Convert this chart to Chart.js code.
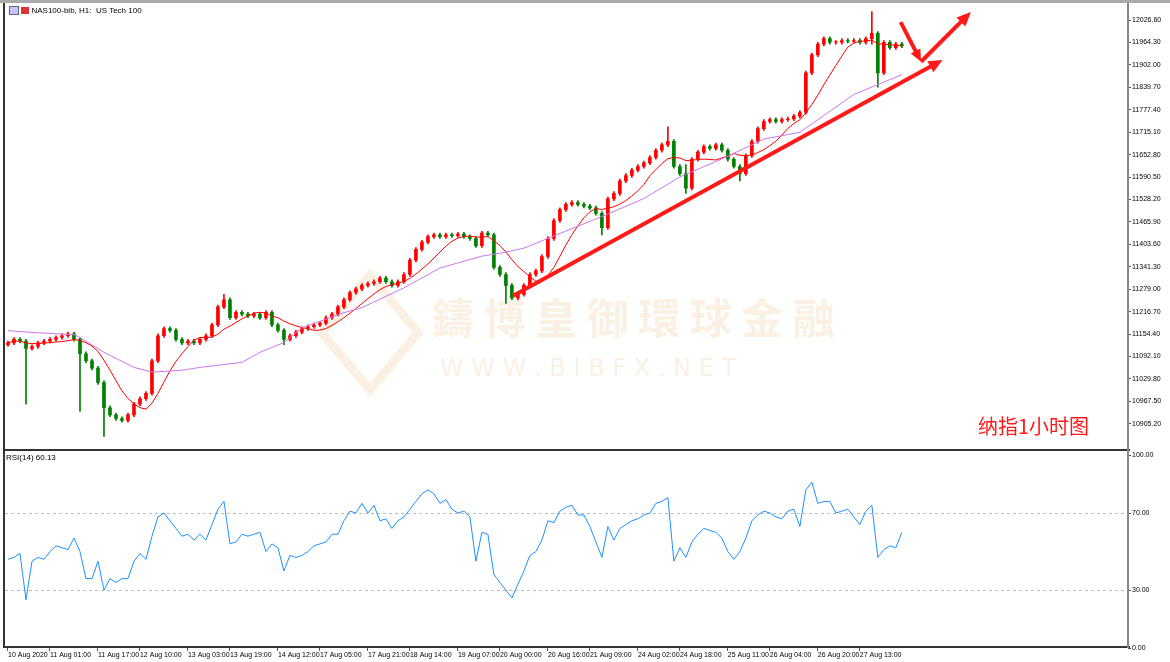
<!DOCTYPE html>
<html>
<head>
<meta charset="utf-8">
<script src="https://cdn.jsdelivr.net/npm/chart.js@4/dist/chart.umd.min.js"></script>
<style>
body{margin:0;background:#fff;width:1170px;height:662px;position:relative;overflow:hidden;font-family:"Liberation Sans",sans-serif}
#main{position:absolute;left:0;top:0;width:1170px;height:450px}
#rsi{position:absolute;left:0;top:450px;width:1170px;height:212px}
.ln{position:absolute;background:#333}
.lbl{position:absolute;font-size:8px;color:#000}
#note{position:absolute;left:978px;top:411px;font:20px "Noto Sans CJK SC",sans-serif;color:#ff1a1a}
</style>
</head>
<body>
<div id="main"><canvas id="c1"></canvas></div>
<div id="rsi"><canvas id="c2"></canvas></div>
<div class="ln" style="left:0;top:0;width:1170px;height:3px;background:#aaa"></div>
<div class="ln" style="left:3px;top:3px;width:2px;height:645px"></div>
<div class="ln" style="left:3px;top:449px;width:1127px;height:2px"></div>
<div class="ln" style="left:3px;top:646px;width:1127px;height:2px"></div>
<div class="ln" style="left:1127px;top:3px;width:2px;height:645px;background:#888"></div>
<div class="lbl" style="left:9px;top:6px"><span style="display:inline-block;width:8px;height:7px;background:#c8c0ff;border:1px solid #666;vertical-align:middle"></span> <span style="display:inline-block;width:8px;height:7px;background:#d33;vertical-align:middle"></span> NAS100-bib, H1:&nbsp; US Tech 100</div>
<div class="lbl" style="left:6px;top:453px">RSI(14) 60.13</div>
<div id="note">纳指1小时图</div>
<script>
// hourly closes (about two bars per slot)
var closes = [11130,11140,11135,11115,11120,11130,11135,11140,11145,11150,
  11155,11140,11100,11080,11060,11020,10950,10930,10920,10915,
  10930,10960,10975,10990,11080,11150,11170,11165,11140,11130,
  11135,11130,11140,11150,11180,11230,11250,11200,11215,11210,
  11205,11210,11200,11215,11180,11165,11140,11150,11160,11170,
  11175,11180,11185,11200,11210,11230,11250,11270,11280,11290,
  11295,11300,11310,11300,11290,11300,11320,11360,11390,11410,
  11425,11430,11425,11430,11428,11432,11425,11420,11400,11435,
  11430,11340,11320,11290,11255,11265,11290,11320,11330,11370,
  11420,11470,11500,11515,11520,11515,11510,11505,11490,11450,
  11530,11545,11580,11595,11610,11620,11630,11645,11665,11680,
  11690,11620,11600,11560,11640,11660,11675,11670,11680,11665,
  11640,11620,11600,11650,11690,11725,11745,11750,11745,11750,
  11752,11760,11770,11880,11930,11960,11975,11965,11965,11970,
  11968,11970,11965,11975,11990,11880,11965,11950,11960,11955];
var firstOpen = 11125;
// long wicks: [index, high, low]
var spikes = [[3,11140,10960],[12,11145,10940],[16,11025,10870],[36,11265,11225],
  [46,11170,11125],[83,11325,11240],[99,11495,11430],[110,11730,11675],
  [113,11625,11545],[122,11625,11580],[144,12050,11960],[145,11995,11840]];
var slowMA = [[0,11164],[4,11159],[11,11153],[12,11145],[16,11104],[21,11062],[24,11049],
  [29,11054],[32,11062],[39,11076],[42,11104],[46,11131],[49,11172],[56,11214],[59,11228],
  [66,11283],[72,11338],[79,11371],[82,11379],[86,11393],[92,11434],[99,11481],[106,11531],
  [112,11591],[119,11641],[126,11696],[132,11715],[141,11820],[149,11875]];
var rsi = [46,47,49,25,45,47,46,50,53,52,51,57,50,36,36,45,30,36,34,36,
  36,45,49,46,58,68,70,66,62,58,59,56,59,56,64,72,76,54,55,59,
  58,59,60,50,54,52,40,48,47,48,50,53,54,55,59,59,66,71,70,75,
  70,74,66,67,62,66,68,72,76,80,82,80,75,77,72,70,71,68,45,60,
  59,38,34,30,26,33,40,48,50,56,66,65,71,73,74,69,69,63,55,47,
  63,56,62,64,66,67,69,70,75,76,78,45,52,47,55,59,62,61,60,57,
  50,46,50,57,66,69,71,70,68,67,71,72,63,82,86,75,76,76,70,71,
  72,68,64,71,74,47,51,53,52,60];
var priceTicks = [10905.2,10967.5,11029.8,11092.1,11154.4,11216.7,11279.0,11341.3,11403.6,
  11465.9,11528.2,11590.5,11652.8,11715.1,11777.4,11839.7,11902.0,11964.3,12026.6];
var timeLabels = [[0,"10 Aug 2020"],[7,"11 Aug 01:00"],[15,"11 Aug 17:00"],[22,"12 Aug 10:00"],
  [30,"13 Aug 03:00"],[37,"13 Aug 19:00"],[45,"14 Aug 12:00"],[52,"17 Aug 05:00"],
  [60,"17 Aug 21:00"],[67,"18 Aug 14:00"],[75,"19 Aug 07:00"],[82,"20 Aug 00:00"],
  [90,"20 Aug 16:00"],[97,"21 Aug 09:00"],[105,"24 Aug 02:00"],[112,"24 Aug 18:00"],
  [120,"25 Aug 11:00"],[127,"26 Aug 04:00"],[135,"26 Aug 20:00"],[142,"27 Aug 13:00"]];
// hand-drawn annotations in (index, price)
var trendLine = [[84.2,11261],[155.8,11916]];
var zigzag = [[148.8,12021],[152.2,11911],[160.5,12049]];

var XMAX = 186.7;
var bodies = [], wicks = [], bodyCol = [], fast = [];
closes.forEach(function(c,i){
  var o = i ? closes[i-1] : firstOpen;
  var hi = Math.max(o,c)+5, lo = Math.min(o,c)-5;
  spikes.forEach(function(s){ if(s[0]===i){hi=s[1];lo=s[2];} });
  bodies.push({x:i,y:[o,c===o?c+1:c]});
  wicks.push({x:i,y:[lo,hi]});
  bodyCol.push(c>=o ? '#ff0000' : '#008000');
  var n = Math.min(8,i+1), s=0;
  for(var k=i-n+1;k<=i;k++) s+=closes[k];
  fast.push({x:i,y:s/n});
});

var font = {family:'"Liberation Sans", sans-serif', size:7};
function fixW(sc){ sc.width = 42; }

var annot = {
  id:'annot',
  beforeDatasetsDraw:function(ch){
    var g=ch.ctx;
    g.save();
    g.globalAlpha=0.16;
    g.strokeStyle='#e0a050'; g.fillStyle='#e0a050'; g.lineWidth=9;
    g.beginPath(); g.moveTo(370,275); g.lineTo(418,333); g.lineTo(370,390); g.lineTo(322,333); g.closePath(); g.stroke();
    g.font='bold 42px "Noto Sans CJK TC", sans-serif';
    g.fillText('鑄 博 皇 御 環 球 金 融',432,334);
    g.font='24px "DejaVu Sans", sans-serif';
    g.fillText('W W W . B I B F X . N E T',440,376);
    g.restore();
  },
  afterDatasetsDraw:function(ch){
    var g=ch.ctx, x=ch.scales.x, y=ch.scales.y;
    function P(p){ return [x.getPixelForValue(p[0]), y.getPixelForValue(p[1])]; }
    function arrow(a,b,w,h){
      var ang=Math.atan2(b[1]-a[1],b[0]-a[0]);
      g.lineWidth=w; g.beginPath(); g.moveTo(a[0],a[1]);
      g.lineTo(b[0]-Math.cos(ang)*h*0.8,b[1]-Math.sin(ang)*h*0.8); g.stroke();
      g.beginPath(); g.moveTo(b[0],b[1]);
      g.lineTo(b[0]-h*Math.cos(ang)+h*0.45*Math.sin(ang), b[1]-h*Math.sin(ang)-h*0.45*Math.cos(ang));
      g.lineTo(b[0]-h*Math.cos(ang)-h*0.45*Math.sin(ang), b[1]-h*Math.sin(ang)+h*0.45*Math.cos(ang));
      g.closePath(); g.fill();
    }
    g.save(); g.strokeStyle='#ff1a1a'; g.fillStyle='#ff1a1a';
    arrow(P(trendLine[0]),P(trendLine[1]),4,14);
    arrow(P(zigzag[0]),P(zigzag[1]),4,12);
    arrow(P(zigzag[1]),P(zigzag[2]),4,14);
    g.restore();
  }
};

new Chart(document.getElementById('c1'),{
  type:'bar',
  data:{datasets:[
    {type:'line',data:slowMA.map(function(p){return {x:p[0],y:p[1]};}),borderColor:'#cc77ee',borderWidth:1,pointRadius:0,order:0},
    {type:'line',data:fast,borderColor:'#ff0000',borderWidth:1,pointRadius:0,order:0},
    {data:bodies,backgroundColor:bodyCol,barThickness:3,grouped:false,order:1},
    {data:wicks,backgroundColor:bodyCol,barThickness:1,grouped:false,order:2}
  ]},
  options:{
    responsive:true,maintainAspectRatio:false,animation:false,
    layout:{padding:{left:5,top:5,bottom:2,right:0}},
    plugins:{legend:{display:false},tooltip:{enabled:false}},
    scales:{
      x:{type:'linear',min:-0.5,max:XMAX,offset:false,bounds:'ticks',grace:0,display:false},
      y:{position:'right',min:10847,max:12068,afterFit:fixW,
        afterBuildTicks:function(s){s.ticks=priceTicks.map(function(v){return {value:v};});},
        grid:{drawOnChartArea:false,tickLength:3,color:'#555'},border:{display:false},
        ticks:{font:font,color:'#000',padding:1,callback:function(v){return v.toFixed(2);}}}
    }
  },
  plugins:[annot]
});

new Chart(document.getElementById('c2'),{
  type:'line',
  data:{datasets:[{data:rsi.map(function(v,i){return {x:i,y:v};}),borderColor:'#1e90ff',borderWidth:1,pointRadius:0}]},
  options:{
    responsive:true,maintainAspectRatio:false,animation:false,
    layout:{padding:{left:5,top:3,bottom:0,right:0}},
    plugins:{legend:{display:false},tooltip:{enabled:false}},
    scales:{
      x:{type:'linear',min:-0.5,max:XMAX,afterFit:function(s){s.height=14;},
        afterBuildTicks:function(s){s.ticks=timeLabels.map(function(t){return {value:t[0]};});},
        grid:{drawOnChartArea:false,tickLength:3,color:'#555'},border:{display:false},
        ticks:{font:font,color:'#000',maxRotation:0,autoSkip:false,align:'start',padding:0,
          callback:function(v){var t=timeLabels.find(function(q){return q[0]===v;});return t?t[1]:'';}}},
      y:{position:'right',min:0,max:100,afterFit:fixW,
        afterBuildTicks:function(s){s.ticks=[0,30,70,100].map(function(v){return {value:v};});},
        grid:{tickLength:3,color:function(c){return (c.tick.value===30||c.tick.value===70)?'#bbb':'rgba(0,0,0,0)';},
          tickColor:'#555'},
        border:{display:false,dash:[3,3]},
        ticks:{font:font,color:'#000',padding:1,callback:function(v){return v.toFixed(2);}}}
    }
  }
});
</script>
</body>
</html>
